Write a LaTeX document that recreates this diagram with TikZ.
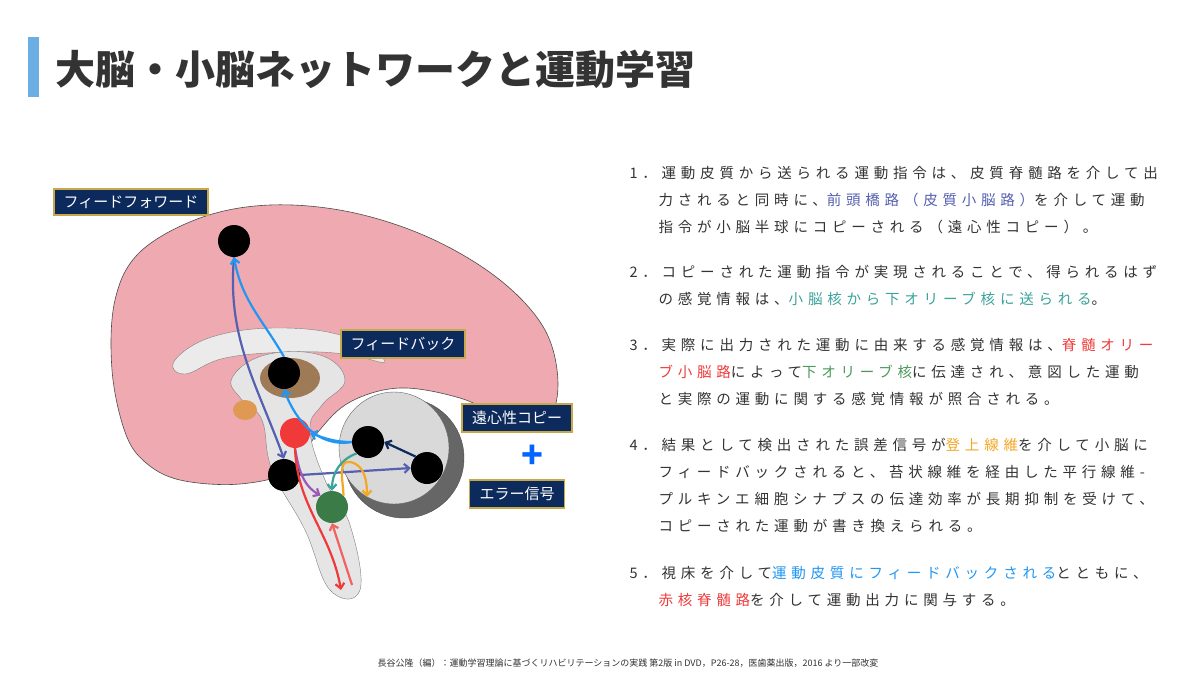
\documentclass[tikz,border=0pt]{standalone}
\usepackage{fontspec}
\setmainfont{Noto Sans CJK JP}
\usetikzlibrary{arrows.meta}
\definecolor{navy}{HTML}{0D2A5C}
\definecolor{gold}{HTML}{C8A94A}
\definecolor{brainpink}{HTML}{EFA9B0}
\definecolor{slateb}{HTML}{5560B0}
\definecolor{skyb}{HTML}{2196F3}
\definecolor{tealc}{HTML}{3AA39A}
\definecolor{redc}{HTML}{F03A3A}
\definecolor{orangec}{HTML}{F5A623}
\definecolor{greenc}{HTML}{4A9A5A}
\definecolor{purplec}{HTML}{9B59B6}
\definecolor{textc}{HTML}{333333}
\tikzset{
  lbl/.style={fill=navy,draw=gold,line width=1.8pt,text=white,font=\fontsize{15}{15}\selectfont,inner xsep=10pt,inner ysep=7pt},
  dot/.style={circle,fill=black,minimum size=32pt,inner sep=0pt},
  path/.style={line width=2.2pt,-{Straight Barb[length=5pt,width=9pt]}},
  ln/.style={anchor=base west,text=textc,font=\fontsize{14.5}{14.5}\selectfont\addfontfeatures{LetterSpace=33}},
}
\begin{document}
\begin{tikzpicture}[x=1pt,y=-1pt]
\useasboundingbox (0,0) rectangle (1200,675);
\fill[white] (0,0) rectangle (1200,675);
% title
\fill[cyan!70!blue!60] (28,37) rectangle (39,97);
\node[anchor=base west,text=textc,font=\fontsize{40}{40}\selectfont\bfseries] (title) at (52,84) {大脳・小脳ネットワークと運動学習};
% brain
\fill[brainpink,draw=black!70,line width=0.6pt] plot[smooth cycle,tension=0.6] coordinates
  {(125,432) (112,370) (115,300) (140,252) (200,218) (270,205) (350,212) (430,238) (500,280) (545,330) (558,385) (545,422) (505,418) (460,398) (400,388) (350,402) (318,432) (292,470) (240,484) (180,480) (145,462)};
\fill[black!8,draw=black!50] plot[smooth cycle,tension=0.7] coordinates
  {(175,360) (215,336) (285,328) (350,338) (385,362) (345,354) (290,352) (225,358) (185,374)};
\fill[black!10,draw=black!50] plot[smooth cycle,tension=0.7] coordinates
  {(232,378) (265,355) (320,355) (345,380) (322,405) (310,430) (325,480) (350,525) (360,590) (330,590) (305,530) (272,470) (262,420) (242,400)};
\fill[brown!70!black!80] (290,378) ellipse (30 and 20);
\fill[brown!60!orange!80] (245,410) ellipse (12 and 10);
\fill[black!60,draw=black!70] (404,458) ellipse (60 and 60);
\fill[black!15,draw=black!60] (394,448) ellipse (55 and 56);
% nodes
\node[dot] (ctx) at (234,241) {};
\node[dot] (thal) at (284,373) {};
\node[circle,fill=redc,minimum size=30pt] (rn) at (295,433) {};
\node[dot] (pons) at (284,475) {};
\node[dot] (dn) at (368,442) {};
\node[dot] (cc) at (427,468) {};
\node[circle,fill=greenc!80!black,minimum size=32pt,inner sep=0pt] (io) at (332,507) {};
% arrows
\draw[path,slateb] (ctx.south) to[out=-95,in=110] (pons.north);
\draw[path,slateb] (pons.east) -- (cc.west);
\draw[path,skyb] (thal.north) to[out=120,in=-80] (ctx.south);
\draw[path,skyb] (dn.west) to[out=190,in=-70] (thal.south);
\draw[path,skyb] (dn.west) to[out=180,in=-20] (rn.east);
\draw[path,navy] (cc.north west) -- (dn.east);
\draw[path,tealc] (dn.south west) to[out=200,in=90] (io.north);
\draw[path,orangec] (io.north east) to[out=90,in=170] (350,462) to[out=-10,in=90] (367,497);
\draw[path,purplec] (rn.south) to[out=-80,in=150] (io.north west);
\coordinate (spd) at (341,590);
\coordinate (spu) at (352,585);
\draw[path,redc] (rn.south) to[out=-88,in=100] (spd);
\draw[path,redc!80] (spu) -- (io.south);
% labels
\node[lbl] (ff) at (131,202) {フィードフォワード};
\node[lbl] (fb) at (403,344) {フィードバック};
\node[lbl] (efc) at (517,418) {遠心性コピー};
\node[text=blue!60!cyan,font=\fontsize{36}{36}\selectfont\bfseries] (plus) at (532,457) {+};
\node[lbl] (err) at (517,494) {エラー信号};
% text
\node[ln] (t1a) at (626,178) {1．運動皮質から送られる運動指令は、皮質脊髄路を介して出};
\node[ln] (t1b) at (655,205) {力されると同時に、\textcolor{slateb}{前頭橋路（皮質小脳路）}を介して運動};
\node[ln] (t1c) at (655,232) {指令が小脳半球にコピーされる（遠心性コピー）。};
\node[ln] (t2a) at (626,277) {2．コピーされた運動指令が実現されることで、得られるはず};
\node[ln] (t2b) at (655,304) {の感覚情報は、\textcolor{tealc}{小脳核から下オリーブ核に送られる}。};
\node[ln] (t3a) at (626,350) {3．実際に出力された運動に由来する感覚情報は、\textcolor{redc}{脊髄オリー}};
\node[ln] (t3b) at (655,377) {\textcolor{redc}{ブ小脳路}によって\textcolor{greenc}{下オリーブ核}に伝達され、意図した運動};
\node[ln] (t3c) at (655,404) {と実際の運動に関する感覚情報が照合される。};
\node[ln] (t4a) at (626,450) {4．結果として検出された誤差信号が\textcolor{orangec}{登上線維}を介して小脳に};
\node[ln] (t4b) at (655,477) {フィードバックされると、苔状線維を経由した平行線維-};
\node[ln] (t4c) at (655,504) {プルキンエ細胞シナプスの伝達効率が長期抑制を受けて、};
\node[ln] (t4d) at (655,531) {コピーされた運動が書き換えられる。};
\node[ln] (t5a) at (626,578) {5．視床を介して\textcolor{skyb}{運動皮質にフィードバックされる}とともに、};
\node[ln] (t5b) at (655,605) {\textcolor{redc}{赤核脊髄路}を介して運動出力に関与する。};
\node[anchor=base,text=textc,font=\fontsize{9}{9}\selectfont] (src) at (628,666) {長谷公隆（編）：運動学習理論に基づくリハビリテーションの実践 第2版 in DVD，P26-28，医歯薬出版，2016 より一部改変};
\end{tikzpicture}
\end{document}
